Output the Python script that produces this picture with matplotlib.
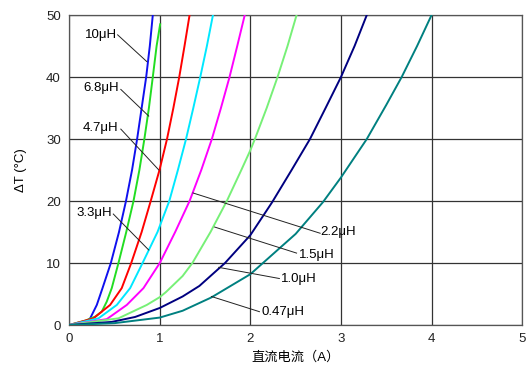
import matplotlib
matplotlib.use("Agg")
import matplotlib.pyplot as plt

plt.rcParams["font.family"] = ["Liberation Sans", "Noto Sans CJK SC", "DejaVu Sans"]

# DATA: current (A) vs temperature rise (°C)
I_10 = [0, 0.176, 0.232, 0.305, 0.368, 0.46, 0.55, 0.627, 0.694, 0.75, 0.80, 0.85, 0.89, 0.923]
T_10 = [0, 0.27, 1.08, 3.24, 5.95, 10, 15, 20, 25, 30, 35, 40, 45, 50]

I_68 = [0, 0.176, 0.287, 0.36, 0.415, 0.47, 0.544, 0.63, 0.71, 0.775, 0.83, 0.88, 0.923, 0.965, 1.004]
T_68 = [0, 0.7, 1.35, 2.16, 3.78, 5.95, 10, 15, 20, 25, 30, 35, 40, 45, 48.5]

I_47 = [0, 0.268, 0.452, 0.58, 0.685, 0.80, 0.90, 0.997, 1.08, 1.15, 1.215, 1.273, 1.329]
T_47 = [0, 1.08, 3.24, 5.95, 10, 15, 20, 25, 30, 35, 40, 45, 50]

I_33 = [0, 0.324, 0.526, 0.673, 0.81, 0.975, 1.105, 1.20, 1.29, 1.37, 1.447, 1.52, 1.587]
T_33 = [0, 1.08, 3.24, 5.95, 10, 15, 20, 25, 30, 35, 40, 45, 50]

I_22 = [0, 0.415, 0.636, 0.82, 1.0, 1.17, 1.329, 1.458, 1.575, 1.675, 1.77, 1.855, 1.938]
T_22 = [0, 0.95, 3.24, 5.95, 10, 15, 20, 25, 30, 35, 40, 45, 50]

I_15 = [0, 0.544, 0.857, 1.0, 1.067, 1.252, 1.36, 1.56, 1.74, 1.90, 2.0, 2.05, 2.18, 2.30, 2.41, 2.51]
T_15 = [0, 1.08, 3.24, 4.5, 5.3, 7.9, 10, 15, 20, 25, 28.2, 30, 35, 40, 45, 50]

I_10u = [0, 0.47, 0.728, 1.0, 1.252, 1.437, 1.72, 2.0, 2.24, 2.455, 2.658, 2.83, 3.0, 3.15, 3.285]
T_10u = [0, 0.5, 1.3, 2.75, 4.6, 6.3, 10, 14.5, 19.8, 25, 30, 35, 40, 45, 50]

I_047 = [0, 0.5, 1.0, 1.252, 1.567, 2.0, 2.5, 2.8, 3.0, 3.285, 3.5, 3.67, 3.84, 4.0]
T_047 = [0, 0.3, 1.2, 2.3, 4.43, 8.2, 14.7, 19.8, 23.8, 30, 35.5, 40, 45, 50]

curves = [
    (I_10, T_10, "#1010ee"),
    (I_68, T_68, "#22dd22"),
    (I_47, T_47, "#ff0000"),
    (I_33, T_33, "#00e8ff"),
    (I_22, T_22, "#ff00ff"),
    (I_15, T_15, "#77f077"),
    (I_10u, T_10u, "#000080"),
    (I_047, T_047, "#008080"),
]

# label text position, leader start, leader end (data coords)
labels = [
    ("10μH",   (0.35, 46.8), (0.535, 46.8), (0.856, 42.5)),
    ("6.8μH",  (0.35, 38.2), (0.57, 38.0),  (0.878, 33.7)),
    ("4.7μH",  (0.35, 31.7), (0.57, 31.6),  (0.99, 25.0)),
    ("3.3μH",  (0.277, 18.0), (0.487, 17.9), (0.878, 12.1)),
    ("2.2μH",  (2.97, 15.05), (2.77, 14.8), (1.366, 21.3)),
    ("1.5μH",  (2.73, 11.3), (2.51, 11.6),  (1.606, 15.8)),
    ("1.0μH",  (2.53, 7.5),  (2.32, 7.5),   (1.65, 9.3)),
    ("0.47μH", (2.36, 2.05), (2.10, 2.15),  (1.57, 4.6)),
]

fig = plt.figure(figsize=(5.28, 3.67), dpi=100)
ax = fig.add_axes([0.131, 0.1144, 0.858, 0.8447])

for x, y, c in curves:
    ax.plot(x, y, color=c, lw=1.4, solid_joinstyle="round", zorder=3)

for txt, tpos, a, b in labels:
    ax.plot([a[0], b[0]], [a[1], b[1]], color="#222222", lw=0.7, zorder=4)
    ax.text(tpos[0], tpos[1], txt, fontsize=9.5, ha="center", va="center", zorder=5)

ax.set_xlim(0, 5)
ax.set_ylim(0, 50)
ax.set_xticks(range(0, 6))
ax.set_yticks(range(0, 51, 10))
ax.grid(True, color="#333333", lw=0.9)
ax.set_axisbelow(True)
ax.tick_params(length=0, labelsize=9.5, pad=6, colors="#222222")
for s in ax.spines.values():
    s.set_color("#555555")
    s.set_linewidth(0.9)

ax.set_xlabel("直流电流（A）", fontsize=9.5, labelpad=4)
ax.set_ylabel("ΔT (°C)", fontsize=9.5, labelpad=14)

fig.savefig("out.png", dpi=100)
